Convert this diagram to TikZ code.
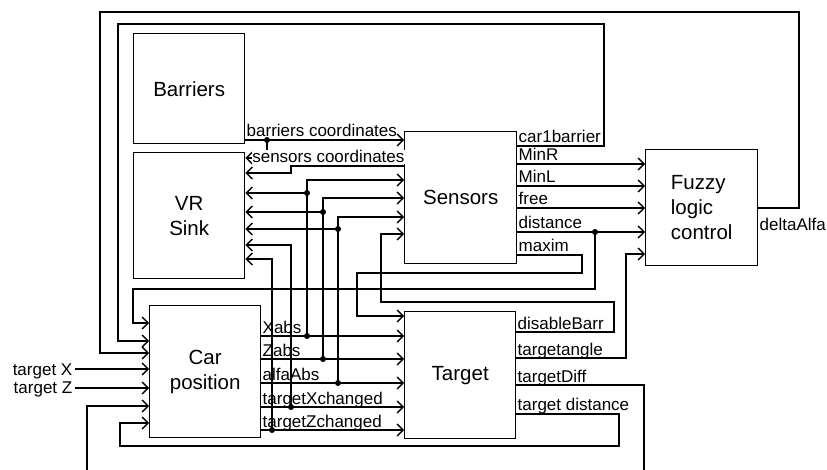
\documentclass[tikz,border=0pt]{standalone}
\usepackage{fontspec}
\setmainfont{Liberation Sans}
\usetikzlibrary{arrows.meta}
\begin{document}
\begin{tikzpicture}[x=1pt,y=-1pt,
  line width=1.4pt,
  blk/.style={draw, line width=1.4pt, anchor=north west, inner sep=0pt, font=\fontsize{20.5}{25}\selectfont, align=center},
  lbl/.style={font=\fontsize{17}{20}\selectfont, inner sep=0pt, anchor=base west},
  arr/.style={-{Straight Barb[length=6pt,width=12pt]}},
  dot/.style={circle, fill, inner sep=0pt, minimum size=6pt}
]
\useasboundingbox (0,0) rectangle (827,470);

% blocks
\node[blk, minimum width=111pt, minimum height=110pt] (barriers) at (133,33) {Barriers};
\node[blk, minimum width=111pt, minimum height=126pt] (vrsink) at (133,152) {VR\\Sink};
\node[blk, minimum width=112pt, minimum height=132pt] (sensors) at (404,131) {Sensors};
\node[blk, minimum width=112pt, minimum height=116pt, align=left] (fuzzy) at (645,149) {Fuzzy\\logic\\control};
\node[blk, minimum width=111pt, minimum height=132pt] (carpos) at (149,305) {Car\\position};
\node[blk, minimum width=111pt, minimum height=127pt] (target) at (404,311) {Target};

% junction points
\coordinate (jb) at (267,140);
\coordinate (jx) at (307,336);
\coordinate (jx2) at (307,193);
\coordinate (jz) at (323,359);
\coordinate (jz2) at (323,212);
\coordinate (ja) at (338,383);
\coordinate (ja2) at (338,229);
\coordinate (jtx) at (291,407);
\coordinate (jtz) at (272,430);
\coordinate (jd) at (595,232);

% barriers coordinates
\draw[arr] (barriers.east |- jb) -- (sensors.west |- jb);
\draw[arr] (jb) -- (267,158) -- (vrsink.east |- 0,158);

% sensors coordinates
\draw[arr] (sensors.west |- 0,166) -- (291,166) -- (291,173) -- (vrsink.east |- 0,173);

% car position outputs
\draw[arr] (carpos.east |- jx) -- (target.west |- jx);
\draw[arr] (jx) -- (307,180) -- (sensors.west |- 0,180);
\draw[arr] (jx2) -- (vrsink.east |- jx2);

\draw[arr] (carpos.east |- jz) -- (target.west |- jz);
\draw[arr] (jz) -- (323,198) -- (sensors.west |- 0,198);
\draw[arr] (jz2) -- (vrsink.east |- jz2);

\draw[arr] (carpos.east |- ja) -- (target.west |- ja);
\draw[arr] (ja) -- (338,217) -- (sensors.west |- 0,217);
\draw[arr] (ja2) -- (vrsink.east |- ja2);

\draw[arr] (carpos.east |- jtx) -- (target.west |- jtx);
\draw[arr] (jtx) -- (291,245) -- (vrsink.east |- 0,245);

\draw[arr] (carpos.east |- jtz) -- (target.west |- jtz);
\draw[arr] (jtz) -- (272,259) -- (vrsink.east |- 0,259);

% disableBarr
\draw[arr] (target.east |- 0,332) -- (614,332) -- (614,302) -- (381,302) -- (381,234) -- (sensors.west |- 0,234);

% sensors outputs
\draw[arr] (sensors.east |- 0,146) -- (604,146) -- (604,24) -- (118,24) -- (118,341) -- (carpos.west |- 0,341);
\draw[arr] (sensors.east |- 0,164) -- (fuzzy.west |- 0,164);
\draw[arr] (sensors.east |- 0,186) -- (fuzzy.west |- 0,186);
\draw[arr] (sensors.east |- 0,208) -- (fuzzy.west |- 0,208);
\draw[arr] (sensors.east |- jd) -- (fuzzy.west |- jd);
\draw[arr] (jd) -- (595,289) -- (133,289) -- (133,323) -- (carpos.west |- 0,323);
\draw[arr] (sensors.east |- 0,255) -- (582,255) -- (582,273) -- (357,273) -- (357,316) -- (target.west |- 0,316);

% fuzzy output
\draw[arr] (fuzzy.east |- 0,208) -- (799,208) -- (799,12) -- (100,12) -- (100,353) -- (carpos.west |- 0,353);

% target outputs
\draw[arr] (target.east |- 0,358) -- (626,358) -- (626,254) -- (fuzzy.west |- 0,254);
\draw[arr] (target.east |- 0,385) -- (644,385) -- (644,480) -- (87,480) -- (87,406) -- (carpos.west |- 0,406);
\draw[arr] (target.east |- 0,414) -- (619,414) -- (619,446) -- (120,446) -- (120,423) -- (carpos.west |- 0,423);

% external inputs
\node[lbl, anchor=base east] (tX) at (73,375) {target X};
\node[lbl, anchor=base east] (tZ) at (73,393) {target Z};
\draw[arr] ([xshift=2pt]tX.east |- 0,369) -- (carpos.west |- 0,369);
\draw[arr] ([xshift=2pt]tZ.east |- 0,388) -- (carpos.west |- 0,388);

% dots
\foreach \p in {jb,jx,jx2,jz,jz2,ja,ja2,jtx,jtz,jd} \node[dot] at (\p) {};

% labels
\node[lbl] at (246,137) {barriers coordinates};
\node[lbl, fill=white, inner sep=0.6pt] at (251,163) {sensors coordinates};

\node[lbl] at (518,143) {car1barrier};
\node[lbl] at (518,161) {MinR};
\node[lbl] at (518,183) {MinL};
\node[lbl] at (518,205) {free};
\node[lbl] at (518,229) {distance};
\node[lbl] at (518,252) {maxim};

\node[lbl] at (262,333) {Xabs};
\node[lbl] at (262,356) {Zabs};
\node[lbl] at (262,380) {alfaAbs};
\node[lbl] at (262,404) {targetXchanged};
\node[lbl] at (262,427) {targetZchanged};

\node[lbl] at (517,329) {disableBarr};
\node[lbl] at (517,355) {targetangle};
\node[lbl] at (517,382) {targetDiff};
\node[lbl] at (517,410) {target distance};

\node[lbl] at (759,231) {deltaAlfa};
\end{tikzpicture}
\end{document}
